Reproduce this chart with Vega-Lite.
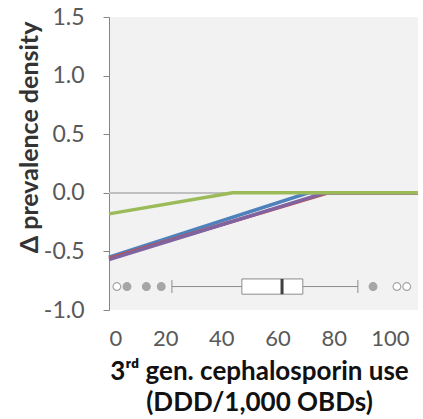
{
  "$schema": "https://vega.github.io/schema/vega-lite/v6.json",
  "width": 309,
  "height": 293,
  "autosize": {"type": "none"},
  "padding": {"left": 109, "top": 17, "right": 5, "bottom": 109},
  "background": "white",
  "config": {"view": {"fill": "#f2f2f2", "stroke": null}, "font": "Lato"},
  "datasets": {
    "lines": [
      {"series": "blue", "x": 0, "y": -0.55},
      {"series": "blue", "x": 71, "y": 0},
      {"series": "blue", "x": 110, "y": 0},
      {"series": "red", "x": 0, "y": -0.56},
      {"series": "red", "x": 78, "y": 0},
      {"series": "red", "x": 110, "y": 0},
      {"series": "purple", "x": 0, "y": -0.57},
      {"series": "purple", "x": 77, "y": 0},
      {"series": "purple", "x": 110, "y": 0},
      {"series": "green", "x": 0, "y": -0.18},
      {"series": "green", "x": 44, "y": 0},
      {"series": "green", "x": 110, "y": 0}
    ],
    "box": [{"lo": 22.4, "q1": 47.3, "med": 61.6, "q3": 69, "hi": 88.6}],
    "outliers": [
      {"x": 2.8, "kind": "open"},
      {"x": 6.4, "kind": "filled"},
      {"x": 13.3, "kind": "filled"},
      {"x": 18.6, "kind": "filled"},
      {"x": 94, "kind": "filled"},
      {"x": 102.5, "kind": "open"},
      {"x": 106, "kind": "open"}
    ]
  },
  "layer": [
    {
      "data": {"name": "lines"},
      "mark": {"type": "rule", "color": "#bfbfbf", "strokeWidth": 1.5},
      "encoding": {
        "y": {
          "datum": 0,
          "type": "quantitative",
          "scale": {"domain": [-1, 1.5], "nice": false, "zero": false},
          "axis": {
            "values": [-1, -0.5, 0, 0.5, 1, 1.5],
            "labelExpr": "replace(format(datum.value, '.1f'), '−', '-')",
            "grid": false,
            "domainColor": "#868686",
            "tickColor": "#868686",
            "tickSize": 6,
            "labelPadding": 19,
            "labelFontSize": 23,
            "labelColor": "#595959",
            "title": "Δ prevalence density",
            "titleFontSize": 25,
            "titleFontWeight": "bold",
            "titleColor": "#333333",
            "titleX": -80,
            "titleY": 120,
            "titleAngle": 270,
            "titleAlign": "center",
            "titleBaseline": "middle"
          }
        }
      }
    },
    {
      "data": {"name": "lines"},
      "mark": {"type": "line", "strokeWidth": 3.5},
      "encoding": {
        "x": {
          "field": "x",
          "type": "quantitative",
          "scale": {"domain": [0, 110], "nice": false},
          "axis": {
            "values": [0, 20, 40, 60, 80, 100],
            "grid": false,
            "domain": false,
            "ticks": false,
            "tickSize": 0,
            "labelPadding": 18,
            "labelFontSize": 22,
            "labelColor": "#595959",
            "title": ["3ʳᵈ gen. cephalosporin use", "(DDD/1,000 OBDs)"],
            "titleFontSize": 26,
            "titleFontWeight": "bold",
            "titleColor": "#111111",
            "titleLineHeight": 31,
            "titleX": 150,
            "titleY": 48,
            "titleAlign": "center",
            "titleBaseline": "top"
          }
        },
        "y": {"field": "y", "type": "quantitative"},
        "color": {
          "field": "series",
          "type": "nominal",
          "scale": {"domain": ["blue", "red", "purple", "green"], "range": ["#4F81BD", "#C0504D", "#8064A2", "#9BBB59"]},
          "legend": null
        }
      }
    },
    {
      "data": {"name": "box"},
      "mark": {"type": "rule", "color": "#8c8c8c", "strokeWidth": 1},
      "encoding": {
        "x": {"field": "lo", "type": "quantitative"},
        "x2": {"field": "hi"},
        "y": {"datum": -0.8, "type": "quantitative"}
      }
    },
    {
      "data": {"name": "box"},
      "mark": {"type": "rule", "color": "#8c8c8c", "strokeWidth": 1},
      "encoding": {
        "x": {"field": "lo", "type": "quantitative"},
        "y": {"datum": -0.745, "type": "quantitative"},
        "y2": {"datum": -0.855}
      }
    },
    {
      "data": {"name": "box"},
      "mark": {"type": "rule", "color": "#8c8c8c", "strokeWidth": 1},
      "encoding": {
        "x": {"field": "hi", "type": "quantitative"},
        "y": {"datum": -0.745, "type": "quantitative"},
        "y2": {"datum": -0.855}
      }
    },
    {
      "data": {"name": "box"},
      "mark": {"type": "rect", "fill": "white", "stroke": "#8c8c8c", "strokeWidth": 1},
      "encoding": {
        "x": {"field": "q1", "type": "quantitative"},
        "x2": {"field": "q3"},
        "y": {"datum": -0.735, "type": "quantitative"},
        "y2": {"datum": -0.865}
      }
    },
    {
      "data": {"name": "box"},
      "mark": {"type": "rule", "color": "#404040", "strokeWidth": 3},
      "encoding": {
        "x": {"field": "med", "type": "quantitative"},
        "y": {"datum": -0.735, "type": "quantitative"},
        "y2": {"datum": -0.865}
      }
    },
    {
      "data": {"name": "outliers"},
      "mark": {"type": "point", "shape": "circle", "filled": true, "stroke": "#a6a6a6", "strokeWidth": 1.2, "size": 60, "opacity": 1},
      "encoding": {
        "x": {"field": "x", "type": "quantitative"},
        "y": {"datum": -0.8, "type": "quantitative"},
        "fill": {
          "field": "kind",
          "type": "nominal",
          "scale": {"domain": ["filled", "open"], "range": ["#a6a6a6", "#ffffff"]},
          "legend": null
        }
      }
    }
  ]
}
